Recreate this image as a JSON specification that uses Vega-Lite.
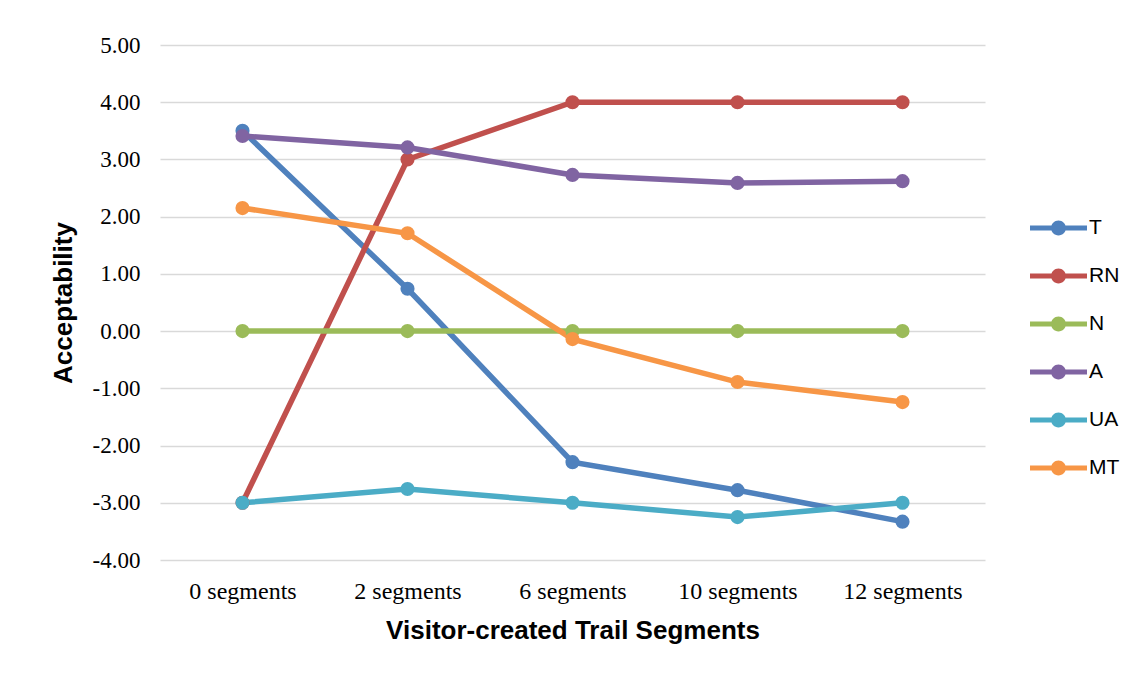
{
  "$schema": "https://vega.github.io/schema/vega-lite/v6.json",
  "autosize": {"type": "none"},
  "width": 825,
  "height": 515,
  "padding": {"left": 160, "top": 45, "right": 137, "bottom": 117},
  "background": "white",
  "config": {
    "view": {"stroke": null},
    "axis": {"labelColor": "black", "titleColor": "black"}
  },
  "data": {
    "values": [
      {"series": "T", "seg": "0 segments", "value": 3.5},
      {"series": "T", "seg": "2 segments", "value": 0.74},
      {"series": "T", "seg": "6 segments", "value": -2.29},
      {"series": "T", "seg": "10 segments", "value": -2.78},
      {"series": "T", "seg": "12 segments", "value": -3.33},
      {"series": "RN", "seg": "0 segments", "value": -3.0},
      {"series": "RN", "seg": "2 segments", "value": 3.0},
      {"series": "RN", "seg": "6 segments", "value": 4.0},
      {"series": "RN", "seg": "10 segments", "value": 4.0},
      {"series": "RN", "seg": "12 segments", "value": 4.0},
      {"series": "N", "seg": "0 segments", "value": 0.0},
      {"series": "N", "seg": "2 segments", "value": 0.0},
      {"series": "N", "seg": "6 segments", "value": 0.0},
      {"series": "N", "seg": "10 segments", "value": 0.0},
      {"series": "N", "seg": "12 segments", "value": 0.0},
      {"series": "A", "seg": "0 segments", "value": 3.41},
      {"series": "A", "seg": "2 segments", "value": 3.21},
      {"series": "A", "seg": "6 segments", "value": 2.73},
      {"series": "A", "seg": "10 segments", "value": 2.59},
      {"series": "A", "seg": "12 segments", "value": 2.62},
      {"series": "UA", "seg": "0 segments", "value": -3.0},
      {"series": "UA", "seg": "2 segments", "value": -2.76},
      {"series": "UA", "seg": "6 segments", "value": -3.0},
      {"series": "UA", "seg": "10 segments", "value": -3.25},
      {"series": "UA", "seg": "12 segments", "value": -3.0},
      {"series": "MT", "seg": "0 segments", "value": 2.15},
      {"series": "MT", "seg": "2 segments", "value": 1.71},
      {"series": "MT", "seg": "6 segments", "value": -0.14},
      {"series": "MT", "seg": "10 segments", "value": -0.89},
      {"series": "MT", "seg": "12 segments", "value": -1.24}
    ]
  },
  "encoding": {
    "x": {
      "field": "seg",
      "type": "ordinal",
      "sort": ["0 segments", "2 segments", "6 segments", "10 segments", "12 segments"],
      "scale": {"type": "point", "padding": 0.5},
      "axis": {
        "title": "Visitor-created Trail Segments",
        "titleFont": "Liberation Sans",
        "titleFontSize": 26,
        "titleFontWeight": "bold",
        "titleX": 412.5,
        "titleY": 70,
        "titleBaseline": "middle",
        "titleAnchor": "middle",
        "labelFont": "Liberation Serif",
        "labelFontSize": 24,
        "labelPadding": 19,
        "labelAngle": 0,
        "domain": false,
        "ticks": false,
        "grid": false
      }
    },
    "y": {
      "field": "value",
      "type": "quantitative",
      "scale": {"domain": [-4, 5], "nice": false, "zero": false},
      "axis": {
        "title": "Acceptability",
        "titleFont": "Liberation Sans",
        "titleFontSize": 26,
        "titleFontWeight": "bold",
        "titleAngle": -90,
        "titleX": -97,
        "titleY": 257.5,
        "titleAlign": "center",
        "titleBaseline": "middle",
        "values": [-4, -3, -2, -1, 0, 1, 2, 3, 4, 5],
        "labelExpr": "replace(format(datum.value, '.2f'), '\u2212', '-')",
        "labelFont": "Liberation Serif",
        "labelFontSize": 23,
        "labelPadding": 20,
        "domain": false,
        "ticks": false,
        "grid": true,
        "gridColor": "#d9d9d9",
        "gridWidth": 1.5
      }
    },
    "color": {
      "field": "series",
      "type": "nominal",
      "scale": {
        "domain": ["T", "RN", "N", "A", "UA", "MT"],
        "range": ["#4F81BD", "#C0504D", "#9BBB59", "#8064A2", "#4BACC6", "#F79646"]
      },
      "legend": {
        "title": null,
        "orient": "none",
        "legendX": 870,
        "legendY": 159,
        "padding": 0,
        "rowPadding": 0,
        "clipHeight": 48,
        "symbolType": "M-1,-0.09L1,-0.09L1,0.09L-1,0.09Z M0.26,0A0.26,0.26,0,1,1,-0.26,0A0.26,0.26,0,1,1,0.26,0Z",
        "symbolSize": 3249,
        "symbolStrokeWidth": 0,
        "symbolOpacity": 1,
        "labelFont": "Liberation Sans",
        "labelFontSize": 21,
        "labelColor": "black",
        "labelOffset": 2
      }
    }
  },
  "layer": [
    {"mark": {"type": "line", "strokeWidth": 5.5}},
    {"mark": {"type": "point", "filled": true, "size": 200, "opacity": 1}}
  ]
}
